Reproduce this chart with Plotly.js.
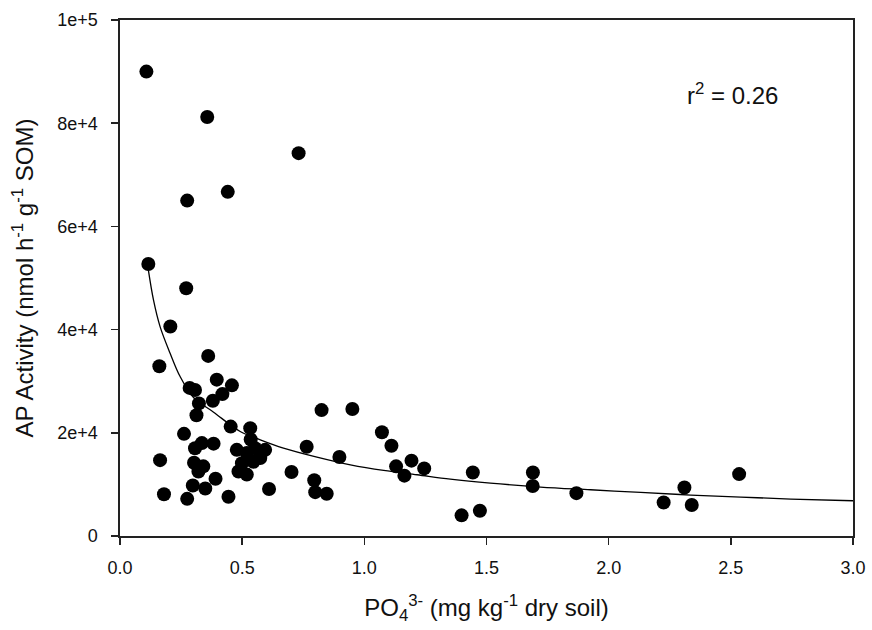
<!DOCTYPE html>
<html>
<head>
<meta charset="utf-8">
<script src="https://cdn.plot.ly/plotly-3.0.1.min.js"></script>
<style>html,body{margin:0;padding:0;background:#fff;}#chart{width:872px;height:630px;}</style>
</head>
<body>
<div id="chart"></div>
<script>
// Observed data: PO4 (mg/kg dry soil) vs AP activity
const po4 = [0.108,0.357,0.731,0.275,0.441,0.116,0.271,0.206,0.161,0.361,
  0.396,0.285,0.307,0.458,0.419,0.380,0.323,0.313,0.453,0.533,
  0.262,0.307,0.335,0.383,0.303,0.341,0.321,0.391,0.298,0.349,
  0.275,0.444,0.478,0.535,0.519,0.553,0.594,0.574,0.499,0.546,
  0.485,0.519,0.610,0.164,0.180,0.702,0.764,0.825,0.951,0.898,
  0.795,0.799,0.846,1.072,1.111,1.130,1.164,1.193,1.245,1.444,
  1.398,1.473,1.690,1.689,1.868,2.225,2.310,2.340,2.534];
const apActivity = [90000,81200,74200,65000,66700,52700,48000,40600,32900,34900,
  30300,28700,28300,29200,27500,26200,25700,23400,21200,20900,
  19800,17000,18000,17900,14200,13500,12500,11100,9800,9200,
  7200,7600,16700,18700,16100,17000,16700,15100,14100,14400,
  12500,11900,9100,14700,8100,12400,17300,24400,24600,15300,
  10800,8500,8200,20100,17500,13500,11700,14600,13100,12300,
  4000,4900,12300,9700,8300,6500,9400,6000,12000];

// Fitted curve
const fitX = [0.116,0.137,0.164,0.205,0.246,0.30,0.383,0.492,0.574,0.669,0.806,0.943,1.079,1.216,1.352,1.516,1.721,1.926,2.131,2.336,2.541,2.746,3.0];
const fitY = [51560,45750,40580,35430,30900,26900,24000,20250,18640,17040,15290,13800,12700,11870,11040,10260,9490,8960,8440,7940,7550,7160,6830];

const yTickVals = [0,20000,40000,60000,80000,100000];
const yTickText = ['0','2e+4','4e+4','6e+4','8e+4','1e+5'];
const xTickVals = [0,0.5,1.0,1.5,2.0,2.5,3.0];
const xTickText = ['0.0','0.5','1.0','1.5','2.0','2.5','3.0'];

const font = 'Liberation Sans, Arial, sans-serif';

const traces = [
  {x: fitX, y: fitY, mode: 'lines', type: 'scatter',
   line: {color: '#000', width: 1.3, shape: 'spline', smoothing: 1}, hoverinfo: 'skip', showlegend: false},
  {x: po4, y: apActivity, mode: 'markers', type: 'scatter',
   marker: {color: '#000', size: 14, line: {width: 0}}, showlegend: false}
];

const layout = {
  width: 872, height: 630,
  margin: {l: 120, r: 19, t: 20, b: 94},
  paper_bgcolor: '#fff', plot_bgcolor: '#fff',
  font: {family: font, color: '#000', size: 18},
  xaxis: {
    range: [0, 3.0], tickvals: xTickVals, ticktext: xTickText,
    showgrid: false, zeroline: false, showline: true, linecolor: '#222', linewidth: 1.6,
    mirror: true, ticks: 'outside', ticklen: 7, tickcolor: '#222', tickwidth: 1.5,
    ticklabelstandoff: 8,
    tickfont: {family: font, size: 18, color: '#111'},
    title: {text: 'PO<sub>4</sub><sup>3-</sup> (mg kg<sup>-1</sup> dry soil)', font: {family: font, size: 24, color: '#111'}, standoff: 22}
  },
  yaxis: {
    range: [0, 100000], tickvals: yTickVals, ticktext: yTickText,
    showgrid: false, zeroline: false, showline: true, linecolor: '#222', linewidth: 1.6,
    mirror: true, ticks: 'outside', ticklen: 7, tickcolor: '#222', tickwidth: 1.5,
    ticklabelstandoff: 10,
    tickfont: {family: font, size: 18, color: '#111'},
    title: {text: 'AP Activity (nmol h<sup>-1</sup> g<sup>-1</sup> SOM)', font: {family: font, size: 24, color: '#111'}, standoff: 17}
  },
  annotations: [{
    xref: 'x', yref: 'y', x: 2.508, y: 85600, showarrow: false,
    text: 'r<sup>2</sup> = 0.26', font: {family: font, size: 24, color: '#111'}
  }]
};

Plotly.newPlot('chart', traces, layout, {displayModeBar: false, staticPlot: true});
</script>
</body>
</html>
